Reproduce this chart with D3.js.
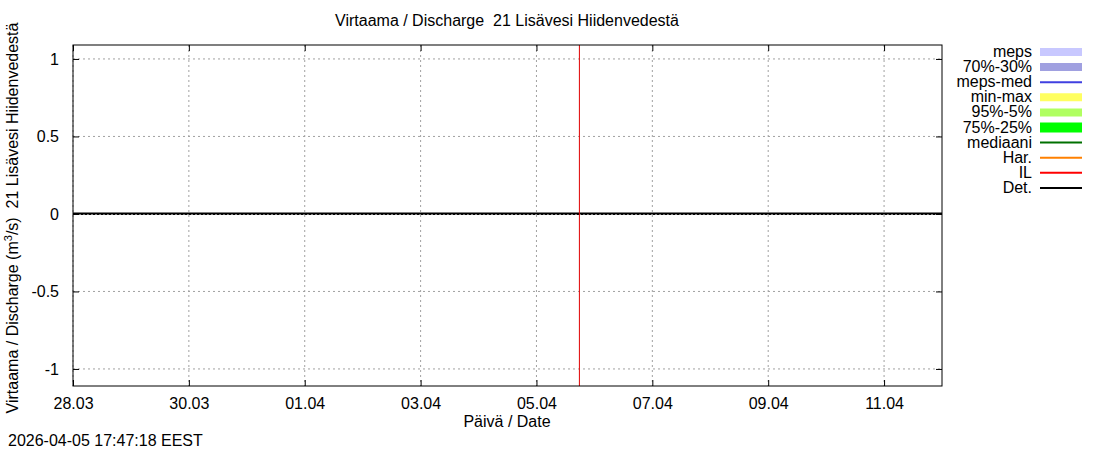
<!DOCTYPE html>
<html>
<head>
<meta charset="utf-8">
<script src="https://cdn.jsdelivr.net/npm/d3@7"></script>
<style>
  body { margin: 0; background: #fff; }
  svg text { font-family: "Liberation Sans", Arial, sans-serif; fill: #000; white-space: pre; }
  .grid line { stroke: #a0a0a0; stroke-dasharray: 2,3; }
</style>
</head>
<body>
<div id="vis"></div>
<script>
// Frame constants
const FRAME_WIDTH = 1100;
const FRAME_HEIGHT = 450;
const MARGINS = {left: 73, right: 158, top: 45, bottom: 64};
const VIS_WIDTH = FRAME_WIDTH - MARGINS.left - MARGINS.right;
const VIS_HEIGHT = FRAME_HEIGHT - MARGINS.top - MARGINS.bottom;

// Data
const TITLE = "Virtaama / Discharge  21 Lisävesi Hiidenvedestä";
const X_LABEL = "Päivä / Date";
const TIMESTAMP = "2026-04-05 17:47:18 EEST";
const X_DOMAIN = ["2026-03-28T00:00", "2026-04-12T00:00"];
const Y_DOMAIN = [-1.11, 1.09];
const X_TICKS = ["2026-03-28", "2026-03-30", "2026-04-01", "2026-04-03", "2026-04-05",
                 "2026-04-07", "2026-04-09", "2026-04-11"];
const Y_TICKS = [-1, -0.5, 0, 0.5, 1];
const Y_TICK_LABELS = ["-1", "-0.5", "0", "0.5", "1"];
const NOW = "2026-04-05T17:47";
const DET_DATES = ["2026-03-28", "2026-03-29", "2026-03-30", "2026-03-31", "2026-04-01",
                   "2026-04-02", "2026-04-03", "2026-04-04", "2026-04-05", "2026-04-06",
                   "2026-04-07", "2026-04-08", "2026-04-09", "2026-04-10", "2026-04-11",
                   "2026-04-12"];
const DET_VALUES = [0, 0, 0, 0, 0, 0, 0, 0, 0, 0, 0, 0, 0, 0, 0, 0];
const LEGEND_NAMES = ["meps", "70%-30%", "meps-med", "min-max", "95%-5%", "75%-25%",
                      "mediaani", "Har.", "IL", "Det."];
const LEGEND_COLORS = ["#c8c8ff", "#a0a0e0", "#4040e0", "#ffff60", "#b0ff60", "#00ff00",
                       "#007000", "#ff8000", "#ff0000", "#000000"];
const LEGEND_WIDTHS = [8, 8, 2, 8, 8, 10, 2, 2, 2, 2];

const parseDay = d3.utcParse("%Y-%m-%d");
const parseTime = d3.utcParse("%Y-%m-%dT%H:%M");

const FRAME = d3.select("#vis")
                .append("svg")
                  .attr("width", FRAME_WIDTH)
                  .attr("height", FRAME_HEIGHT);

// Scales
const X_SCALE = d3.scaleUtc()
                    .domain(X_DOMAIN.map(parseTime))
                    .range([0, VIS_WIDTH]);
const Y_SCALE = d3.scaleLinear()
                    .domain(Y_DOMAIN)
                    .range([VIS_HEIGHT, 0]);

const PLOT = FRAME.append("g")
               .attr("transform", "translate(" + MARGINS.left + "," + MARGINS.top + ")");

// Grid
PLOT.append("g")
      .attr("class", "grid")
      .selectAll("line")
      .data(X_TICKS.map(parseDay))
      .enter()
      .append("line")
        .attr("x1", (d) => { return X_SCALE(d); })
        .attr("x2", (d) => { return X_SCALE(d); })
        .attr("y1", 0)
        .attr("y2", VIS_HEIGHT);
PLOT.append("g")
      .attr("class", "grid")
      .selectAll("line")
      .data(Y_TICKS)
      .enter()
      .append("line")
        .attr("x1", 0)
        .attr("x2", VIS_WIDTH)
        .attr("y1", (d) => { return Y_SCALE(d); })
        .attr("y2", (d) => { return Y_SCALE(d); });

// Det. line
const detData = DET_DATES.map((d, i) => { return {date: parseDay(d), value: DET_VALUES[i]}; });
PLOT.append("path")
      .datum(detData)
      .attr("fill", "none")
      .attr("stroke", "#000")
      .attr("stroke-width", 2)
      .attr("d", d3.line()
                    .x((d) => { return X_SCALE(d.date); })
                    .y((d) => { return Y_SCALE(d.value) - 0.5; }));

// zero grid line drawn over the data line
PLOT.append("line")
      .attr("x1", 0).attr("x2", VIS_WIDTH)
      .attr("y1", Y_SCALE(0) + 0.5).attr("y2", Y_SCALE(0) + 0.5)
      .attr("stroke", "#000")
      .attr("stroke-dasharray", "2,2");

// Current time line
PLOT.append("line")
      .attr("x1", X_SCALE(parseTime(NOW)))
      .attr("x2", X_SCALE(parseTime(NOW)))
      .attr("y1", 0)
      .attr("y2", VIS_HEIGHT)
      .attr("stroke", "#e00000")
      .attr("stroke-width", 1);

// Axes (ticks inside, mirrored like gnuplot)
const xTicks = X_TICKS.map(parseDay);
const xFmt = d3.utcFormat("%d.%m");
PLOT.append("g")
      .attr("transform", "translate(0," + VIS_HEIGHT + ")")
      .call(d3.axisBottom(X_SCALE).tickValues(xTicks).tickFormat(xFmt).tickSizeInner(-6).tickSizeOuter(0).tickPadding(12))
      .call((g) => g.select(".domain").remove())
      .attr("font-size", "16px")
      .attr("font-family", "Liberation Sans, Arial, sans-serif");
PLOT.append("g")
      .call(d3.axisTop(X_SCALE).tickValues(xTicks).tickFormat("").tickSizeInner(-6).tickSizeOuter(0))
      .call((g) => g.select(".domain").remove());
PLOT.append("g")
      .call(d3.axisLeft(Y_SCALE).tickValues(Y_TICKS)
              .tickFormat((d, i) => { return Y_TICK_LABELS[i]; })
              .tickSizeInner(-6).tickSizeOuter(0).tickPadding(14))
      .call((g) => g.select(".domain").remove())
      .attr("font-size", "16px")
      .attr("font-family", "Liberation Sans, Arial, sans-serif");
PLOT.append("g")
      .attr("transform", "translate(" + VIS_WIDTH + ",0)")
      .call(d3.axisRight(Y_SCALE).tickValues(Y_TICKS).tickFormat("").tickSizeInner(-6).tickSizeOuter(0))
      .call((g) => g.select(".domain").remove());

PLOT.append("rect")
      .attr("width", VIS_WIDTH)
      .attr("height", VIS_HEIGHT)
      .attr("fill", "none")
      .attr("stroke", "#000");

// Titles
FRAME.append("text")
       .attr("x", 507).attr("y", 26)
       .attr("text-anchor", "middle")
       .attr("font-size", "16px")
       .text(TITLE);
FRAME.append("text")
       .attr("x", 507).attr("y", 427)
       .attr("text-anchor", "middle")
       .attr("font-size", "16px")
       .text(X_LABEL);
FRAME.append("text")
       .attr("x", 8).attr("y", 446)
       .attr("font-size", "16px")
       .text(TIMESTAMP);

const yLab = FRAME.append("text")
       .attr("transform", "translate(18," + 218 + ") rotate(-90)")
       .attr("text-anchor", "middle")
       .attr("font-size", "16px");
yLab.append("tspan").text("Virtaama / Discharge (m");
yLab.append("tspan").attr("dy", -6).attr("font-size", "11px").text("3");
yLab.append("tspan").attr("dy", 6).text("/s)  21 Lisävesi Hiidenvedestä");

// Legend
const LEGEND = FRAME.append("g");
const rows = LEGEND.selectAll("g")
                   .data(LEGEND_NAMES)
                   .enter()
                   .append("g")
                     .attr("transform", (d, i) => { return "translate(0," + (52 + i * 15.1) + ")"; });
rows.append("text")
      .attr("x", 1032)
      .attr("y", 5)
      .attr("text-anchor", "end")
      .attr("font-size", "16px")
      .text((d) => { return d; });
rows.append("line")
      .attr("x1", 1040).attr("x2", 1082)
      .attr("y1", 0).attr("y2", 0)
      .attr("stroke", (d, i) => { return LEGEND_COLORS[i]; })
      .attr("stroke-width", (d, i) => { return LEGEND_WIDTHS[i]; });
</script>
</body>
</html>
